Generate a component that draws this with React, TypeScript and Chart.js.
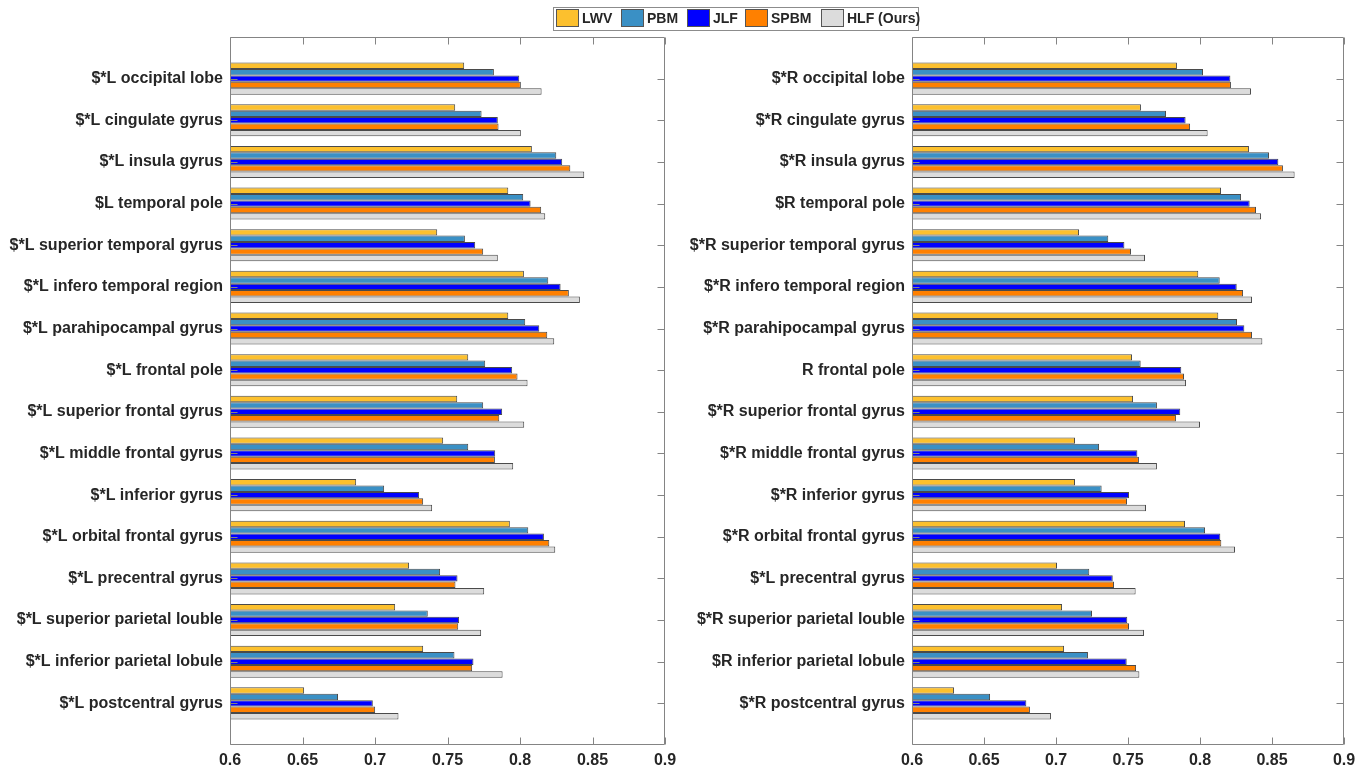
import React, { useEffect, useRef } from 'react';
import { Chart, registerables } from 'chart.js';

Chart.register(...registerables);

const FONT = '"Liberation Sans", Arial, Helvetica, sans-serif';

const SERIES = ['LWV', 'PBM', 'JLF', 'SPBM', 'HLF (Ours)'];
const COLORS = ['#FCC02E', '#3A90C5', '#0000FF', '#FF8000', '#DCDCDC'];
const X_TICKS = [0.6, 0.65, 0.7, 0.75, 0.8, 0.85, 0.9];

const CATEGORIES_L = [
  '$*L occipital lobe', '$*L cingulate gyrus', '$*L insula gyrus', '$L temporal pole',
  '$*L superior temporal gyrus', '$*L infero temporal region', '$*L parahipocampal gyrus',
  '$*L frontal pole', '$*L superior frontal gyrus', '$*L middle frontal gyrus',
  '$*L inferior gyrus', '$*L orbital frontal gyrus', '$*L precentral gyrus',
  '$*L superior parietal louble', '$*L inferior parietal lobule', '$*L postcentral gyrus',
];
const CATEGORIES_R = [
  '$*R occipital lobe', '$*R cingulate gyrus', '$*R insula gyrus', '$R temporal pole',
  '$*R superior temporal gyrus', '$*R infero temporal region', '$*R parahipocampal gyrus',
  'R frontal pole', '$*R superior frontal gyrus', '$*R middle frontal gyrus',
  '$*R inferior gyrus', '$*R orbital frontal gyrus', '$*L precentral gyrus',
  '$*R superior parietal louble', '$R inferior parietal lobule', '$*R postcentral gyrus',
];

const LWV_L = [0.7615, 0.7553, 0.8082, 0.7919, 0.7429, 0.8027, 0.7919, 0.7643, 0.7567, 0.747, 0.687, 0.793, 0.7235, 0.7139, 0.7332, 0.6511];
const PBM_L = [0.782, 0.7735, 0.825, 0.8022, 0.762, 0.8195, 0.8036, 0.776, 0.7746, 0.7643, 0.7063, 0.8057, 0.7449, 0.7364, 0.7548, 0.6745];
const JLF_L = [0.7995, 0.7847, 0.8291, 0.8073, 0.7691, 0.828, 0.8133, 0.7946, 0.7877, 0.7829, 0.7304, 0.8165, 0.7569, 0.758, 0.7679, 0.6985];
const SPBM_L = [0.8006, 0.7852, 0.8347, 0.8146, 0.7746, 0.8337, 0.8188, 0.7983, 0.7857, 0.7827, 0.7332, 0.8202, 0.7555, 0.7574, 0.767, 0.7001];
const HLF_L = [0.8149, 0.8006, 0.8443, 0.8174, 0.7847, 0.8413, 0.8236, 0.8052, 0.8029, 0.7953, 0.7394, 0.8243, 0.7753, 0.7732, 0.788, 0.7162];

const LWV_R = [0.784, 0.759, 0.834, 0.8146, 0.716, 0.7988, 0.8127, 0.7528, 0.7535, 0.7132, 0.7132, 0.7896, 0.7007, 0.7042, 0.7056, 0.6292];
const PBM_R = [0.8021, 0.7764, 0.8479, 0.8285, 0.7363, 0.8137, 0.8257, 0.7588, 0.7701, 0.7299, 0.7317, 0.8035, 0.7231, 0.725, 0.7222, 0.6542];
const JLF_R = [0.8211, 0.79, 0.8544, 0.8345, 0.7475, 0.8255, 0.8308, 0.787, 0.7863, 0.7565, 0.7507, 0.8141, 0.7394, 0.7495, 0.7491, 0.6794];
const SPBM_R = [0.8215, 0.7931, 0.8576, 0.8389, 0.7521, 0.8299, 0.8361, 0.7889, 0.7833, 0.7576, 0.7493, 0.8148, 0.7403, 0.7507, 0.7556, 0.6819];
const HLF_R = [0.8354, 0.8053, 0.8657, 0.8424, 0.7618, 0.8361, 0.8433, 0.7903, 0.80, 0.7701, 0.7625, 0.8243, 0.7553, 0.7611, 0.7579, 0.6965];

const AXIS_COLOR = '#848484';
const TICK_LEN = 7;

const boxPlugin = {
  id: 'matlabBox',
  afterDraw(chart: any) {
    const { ctx, chartArea: a } = chart;
    const xs = chart.scales.x;
    const ys = chart.scales.y;
    const L = Math.round(a.left) + 0.5;
    const R = Math.round(a.right) - 0.5;
    const T = Math.round(a.top) + 0.5;
    const B = Math.round(a.bottom) - 0.5;
    ctx.save();
    ctx.strokeStyle = AXIS_COLOR;
    ctx.lineWidth = 1;
    ctx.beginPath();
    ctx.rect(L, T, R - L, B - T);
    X_TICKS.forEach((v) => {
      const px = Math.round(xs.getPixelForValue(v)) + 0.5;
      ctx.moveTo(px, B);
      ctx.lineTo(px, B - TICK_LEN);
      ctx.moveTo(px, T);
      ctx.lineTo(px, T + TICK_LEN);
    });
    const n = chart.data.labels.length;
    for (let i = 1; i < n - 1; i++) {
      const py = Math.round(ys.getPixelForValue(i)) + 0.5;
      ctx.moveTo(L, py);
      ctx.lineTo(L + TICK_LEN, py);
      ctx.moveTo(R, py);
      ctx.lineTo(R - TICK_LEN, py);
    }
    ctx.stroke();
    ctx.restore();
  },
};

function makeChart(canvas: HTMLCanvasElement, labels: string[], series: number[][], yWidth: number, padRight: number) {
  return new Chart(canvas, {
    type: 'bar',
    data: {
      labels: ['', ...labels, ''],
      datasets: SERIES.map((name, i) => ({
        label: name,
        data: [null, ...series[i], null],
        backgroundColor: COLORS[i],
        borderColor: '#4a4a4a',
        borderWidth: 1,
        borderSkipped: false,
        base: 0.6,
        categoryPercentage: 0.77,
        barPercentage: 1,
      })),
    } as any,
    options: {
      indexAxis: 'y',
      responsive: false,
      animation: false,
      layout: { padding: { top: 37, right: padRight, bottom: 0, left: 0 } },
      plugins: { legend: { display: false }, tooltip: { enabled: false } },
      scales: {
        x: {
          type: 'linear',
          position: 'bottom',
          min: 0.6,
          max: 0.9,
          afterBuildTicks: (s: any) => {
            s.ticks = X_TICKS.map((v) => ({ value: v }));
          },
          afterFit: (s: any) => {
            s.height = 28;
          },
          grid: { display: false, drawTicks: false },
          border: { display: false },
          ticks: {
            padding: 6,
            color: '#262626',
            autoSkip: false,
            maxRotation: 0,
            font: { family: FONT, size: 16, weight: 'bold' },
            callback: (v: any) => String(+Number(v).toFixed(2)),
          },
        },
        y: {
          type: 'category',
          offset: false,
          afterFit: (s: any) => {
            s.width = yWidth;
          },
          grid: { display: false, drawTicks: false },
          border: { display: false },
          ticks: {
            padding: 7,
            autoSkip: false,
            color: '#262626',
            font: { family: FONT, size: 16, weight: 'bold' },
          },
        },
      },
    } as any,
    plugins: [boxPlugin],
  });
}

const LEGEND_POS = [2, 67, 133, 191, 267];

export default function App() {
  const leftRef = useRef<HTMLCanvasElement>(null);
  const rightRef = useRef<HTMLCanvasElement>(null);

  useEffect(() => {
    const c1 = makeChart(leftRef.current!, CATEGORIES_L, [LWV_L, PBM_L, JLF_L, SPBM_L, HLF_L], 230, 20);
    const c2 = makeChart(rightRef.current!, CATEGORIES_R, [LWV_R, PBM_R, JLF_R, SPBM_R, HLF_R], 232, 27);
    return () => {
      c1.destroy();
      c2.destroy();
    };
  }, []);

  return (
    <div style={{ position: 'absolute', left: 0, top: 0, width: 1371, height: 773, background: '#fff', overflow: 'hidden' }}>
      <canvas ref={leftRef} width={685} height={773} style={{ position: 'absolute', left: 0, top: 0, width: 685, height: 773 }} />
      <canvas ref={rightRef} width={691} height={773} style={{ position: 'absolute', left: 680, top: 0, width: 691, height: 773 }} />
      <div
        style={{
          position: 'absolute',
          left: 553,
          top: 7,
          width: 366,
          height: 24,
          boxSizing: 'border-box',
          border: '1px solid #8c8c8c',
          background: '#fff',
          fontFamily: FONT,
          fontWeight: 'bold',
          fontSize: 14,
          color: '#262626',
        }}
      >
        {SERIES.map((name, i) => (
          <React.Fragment key={name}>
            <div
              style={{
                position: 'absolute',
                left: LEGEND_POS[i],
                top: 1,
                width: 23,
                height: 18,
                boxSizing: 'border-box',
                border: '1px solid #555',
                background: COLORS[i],
              }}
            />
            <div style={{ position: 'absolute', left: LEGEND_POS[i] + 26, top: 0, lineHeight: '21px', whiteSpace: 'nowrap' }}>
              {name}
            </div>
          </React.Fragment>
        ))}
      </div>
    </div>
  );
}
